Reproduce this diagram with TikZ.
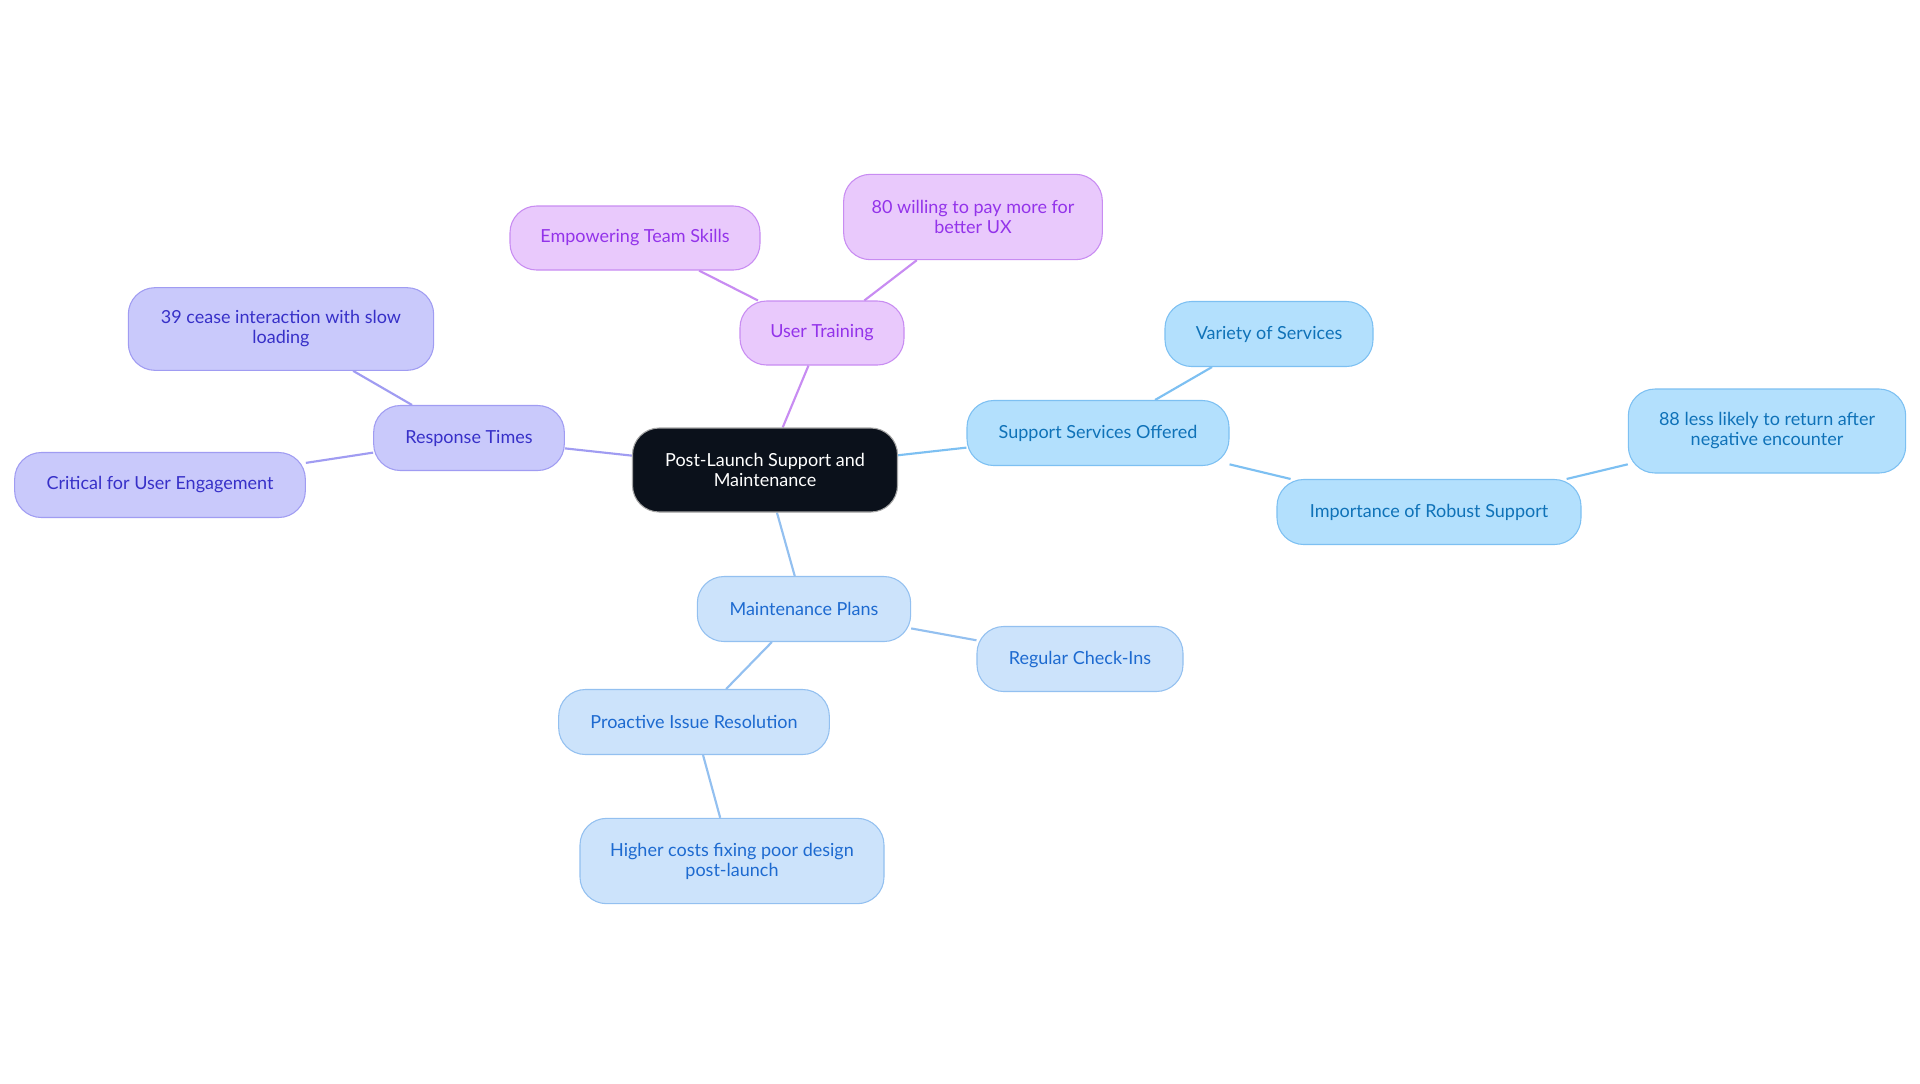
\documentclass[tikz,border=0pt]{standalone}
\usepackage{fontspec}
\setmainfont{Lato}
\usetikzlibrary{backgrounds}
\definecolor{cfill}{HTML}{0B111B}
\definecolor{pfill}{HTML}{E9C9FC}
\definecolor{pline}{HTML}{C88CF2}
\definecolor{ptext}{HTML}{9333EA}
\definecolor{vfill}{HTML}{C9C9FB}
\definecolor{vline}{HTML}{A09CF2}
\definecolor{vtext}{HTML}{3730C8}
\definecolor{sfill}{HTML}{B3E0FD}
\definecolor{sline}{HTML}{7DC0F2}
\definecolor{stext}{HTML}{0F72B8}
\definecolor{mfill}{HTML}{CCE3FB}
\definecolor{mline}{HTML}{93C0F0}
\definecolor{mtext}{HTML}{1D6AD0}
\tikzset{
  px/.style={x=0.75pt,y=-0.75pt},
  box/.style={rounded corners=20pt, line width=0.8pt, align=center,
    font=\fontsize{13.5}{15}\selectfont, inner sep=0pt},
  cnode/.style={box, fill=cfill, draw=gray!70, text=white},
  pnode/.style={box, fill=pfill, draw=pline, text=ptext},
  vnode/.style={box, fill=vfill, draw=vline, text=vtext},
  snode/.style={box, fill=sfill, draw=sline, text=stext},
  mnode/.style={box, fill=mfill, draw=mline, text=mtext},
  pedge/.style={draw=pline, line width=1.6pt},
  vedge/.style={draw=vline, line width=1.6pt},
  sedge/.style={draw=sline, line width=1.6pt},
  medge/.style={draw=mline, line width=1.6pt},
}
\begin{document}
\begin{tikzpicture}[px]
\useasboundingbox (0,0) rectangle (1920,1083);
% nodes
\node[cnode, minimum width=198.75pt, minimum height=63pt] (c) at (765,470) {Post-Launch Support and\\Maintenance};
\node[pnode, minimum width=123pt, minimum height=48pt] (ut) at (822,333) {User Training};
\node[pnode, minimum width=187.5pt, minimum height=48pt] (ets) at (635,238) {Empowering Team Skills};
\node[pnode, minimum width=194pt, minimum height=64pt] (w80) at (973,217) {80 willing to pay more for\\better UX};
\node[vnode, minimum width=143pt, minimum height=48.75pt] (rt) at (469,438) {Response Times};
\node[vnode, minimum width=229pt, minimum height=62pt] (c39) at (281,329) {39 cease interaction with slow\\loading};
\node[vnode, minimum width=218pt, minimum height=48.75pt] (cue) at (160,485) {Critical for User Engagement};
\node[snode, minimum width=196.5pt, minimum height=48.75pt] (sso) at (1098,433) {Support Services Offered};
\node[snode, minimum width=156pt, minimum height=48.75pt] (vos) at (1269,334) {Variety of Services};
\node[snode, minimum width=228pt, minimum height=48.75pt] (irs) at (1429,512) {Importance of Robust Support};
\node[snode, minimum width=208pt, minimum height=63pt] (l88) at (1767,431) {88 less likely to return after\\negative encounter};
\node[mnode, minimum width=160pt, minimum height=48.75pt] (mp) at (804,609) {Maintenance Plans};
\node[mnode, minimum width=154.5pt, minimum height=48.75pt] (rci) at (1080,659) {Regular Check-Ins};
\node[mnode, minimum width=203pt, minimum height=48.75pt] (pir) at (694,722) {Proactive Issue Resolution};
\node[mnode, minimum width=228pt, minimum height=64pt] (hc) at (732,861) {Higher costs fixing poor design\\post-launch};
% edges
\begin{scope}[on background layer]
\fill[white] (0,0) rectangle (1920,1083);
\draw[pedge] (c) -- (ut);
\draw[pedge] (ut) -- (ets);
\draw[pedge] (ut) -- (w80);
\draw[vedge] (c) -- (rt);
\draw[vedge] (rt) -- (c39);
\draw[vedge] (rt) -- (cue);
\draw[sedge] (c) -- (sso);
\draw[sedge] (sso) -- (vos);
\draw[sedge] (sso) -- (irs);
\draw[sedge] (irs) -- (l88);
\draw[medge] (c) -- (mp);
\draw[medge] (mp) -- (rci);
\draw[medge] (mp) -- (pir);
\draw[medge] (pir) -- (hc);
\end{scope}
\end{tikzpicture}
\end{document}
